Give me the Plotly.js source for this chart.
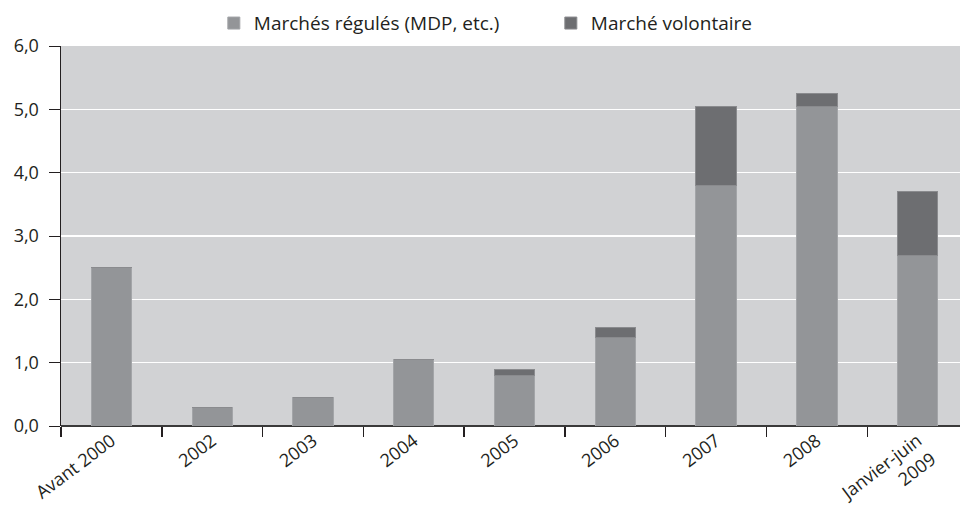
<!DOCTYPE html>
<html><head><meta charset="utf-8">
<script src="https://cdn.plot.ly/plotly-3.0.1.min.js"></script>
<style>body{margin:0;background:#fff}#c{width:960px;height:508px}</style>
</head><body><div id="c"></div>
<script>
var categories = ["Avant 2000","2002","2003","2004","2005","2006","2007","2008","Janvier-juin<br>2009"];
var regules = [2.5,0.3,0.45,1.05,0.8,1.4,3.8,5.05,2.7];
var volontaire = [0,0,0,0,0.1,0.15,1.25,0.2,1.0];
var yTicks = [0,1,2,3,4,5,6];

var font = {family:"Open Sans, sans-serif", size:18, color:"#231f20"};
var traces = [
 {type:"bar", name:"Marchés régulés (MDP, etc.)", x:categories, y:regules,
  marker:{color:"#939598", line:{color:"#a3a5a8", width:1}}, width:0.4},
 {type:"bar", name:"Marché volontaire", x:categories, y:volontaire,
  marker:{color:"#6d6e71", line:{color:"#8a8b8e", width:1}}, width:0.4}
];
var layout = {
 width:960, height:508, barmode:"stack",
 margin:{l:61, r:0, t:46, b:82},
 paper_bgcolor:"#ffffff", plot_bgcolor:"#d1d2d4",
 font:font, separators:", ",
 showlegend:true,
 legend:{orientation:"h", x:0.17, xanchor:"left", y:1.01, yanchor:"bottom",
   font:{family:"Open Sans, sans-serif", size:19, color:"#231f20"}, traceorder:"normal", entrywidth:292},
 xaxis:{type:"category", range:[-0.5, 8.42], tickson:"boundaries", ticks:"outside", ticklen:10, tickcolor:"#231f20", tickwidth:1.5,
   tickangle:-37, showgrid:false, showline:false, zeroline:false, fixedrange:true, automargin:false},
 yaxis:{range:[0,6], tickvals:yTicks, tickformat:".1f", ticks:"outside", ticklen:11, tickcolor:"#231f20",
   showline:true, linecolor:"#231f20", linewidth:1.5, gridcolor:"#ffffff", gridwidth:1.5, automargin:false,
   zeroline:true, zerolinecolor:"#3a3a3a", zerolinewidth:2.5, ticklabelstandoff:6},
};
Plotly.newPlot("c", traces, layout, {staticPlot:true});
</script></body></html>
